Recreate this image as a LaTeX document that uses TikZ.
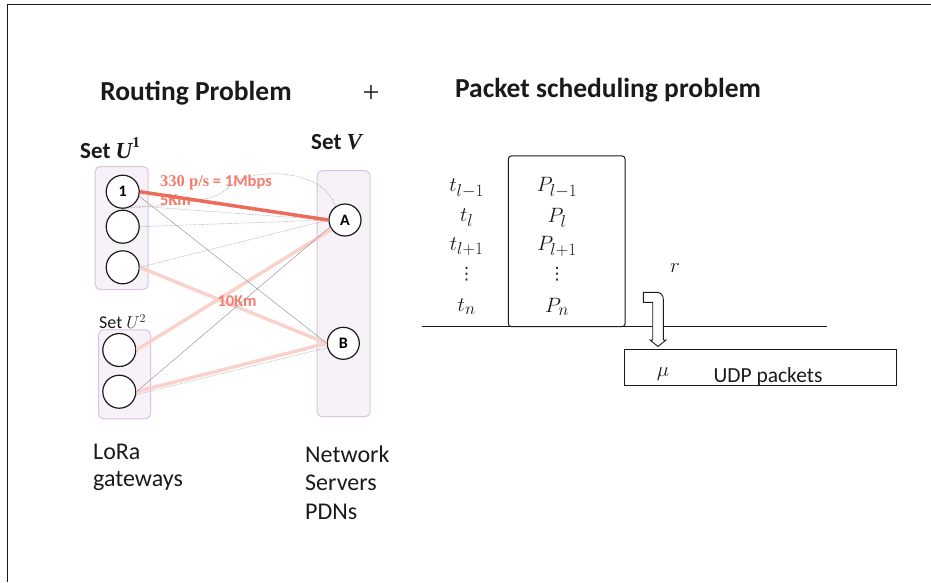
\documentclass[tikz,border=0pt]{standalone}
\usepackage{fontspec}
\setmainfont{Carlito}
\newfontfamily\serifbold{Liberation Serif}
\newfontfamily\symbolfont{DejaVu Sans}
\DeclareMathSizes{21}{21}{16.5}{13}
\definecolor{linkred}{HTML}{EE6A5A}
\definecolor{linkpale}{HTML}{F9D2CC}
\definecolor{labelred}{HTML}{F47C6C}
\definecolor{setfill}{HTML}{F7F1F8}
\definecolor{setedge}{HTML}{DCC2E2}
\definecolor{wire}{HTML}{9A9A9A}
\definecolor{ink}{HTML}{1A1A1A}
\newcommand{\fs}[1]{\fontsize{#1}{#1}\selectfont}
\newcommand{\setsym}[2]{{\serifbold\bfseries\itshape #1}\raisebox{0.45em}{\fontsize{15}{15}\selectfont\serifbold\bfseries #2}}
\newcommand{\colvdots}{{\symbolfont\fs{17}⋮}}
\begin{document}
\begin{tikzpicture}[x=1pt,y=-1pt,
  setbox/.style={draw=setedge,fill=setfill,line width=1pt,rounded corners=5pt,inner sep=0pt},
  gw/.style={circle,draw=ink,line width=1.2pt,fill=white,minimum size=33pt,inner sep=0pt,font=\fs{16}\bfseries},
  ns/.style={circle,draw=ink,line width=1.2pt,fill=white,minimum size=32pt,inner sep=0pt,font=\fs{16}\bfseries},
  strong/.style={linkred,line width=3.5pt},
  pale/.style={linkpale,line width=3.5pt},
  dotwire/.style={wire,line width=0.6pt,densely dotted},
  thinwire/.style={wire,line width=0.5pt},
  lbl/.style={inner sep=0pt,text=ink},
  mth/.style={inner sep=0pt,font=\fs{21},text=ink},
  rlabel/.style={inner sep=0pt,text=labelred,font=\fs{16.5}\bfseries}]
\useasboundingbox (0,0) rectangle (931,582);
% slide frame
\draw[ink,line width=1.5pt] (931,4.5) -- (7.5,4.5) -- (7.5,582);

% titles
\node[lbl,font=\fs{27.5}\bfseries] (trouting) at (196,93) {Routing Problem};
\node[lbl,font=\serifbold\fs{30}] (tplus) at (371,94) {+};
\node[lbl,font=\fs{27.5}\bfseries] (tsched) at (608,90) {Packet scheduling problem};

% sets
\node[lbl,anchor=west,font=\fs{23}\bfseries] (hU1) at (80,148) {Set \setsym{U}{1}};
\node[lbl,anchor=west,font=\fs{23}\bfseries] (hV) at (311,142) {Set {\serifbold\bfseries\itshape V}};
\node[lbl,anchor=west,font=\fs{18}] (hU2) at (99,322) {Set $U^2$};

\node[setbox,minimum width=53pt,minimum height=123pt] (U1box) at (121.7,228) {};
\node[setbox,minimum width=52pt,minimum height=89pt] (U2box) at (124.5,374.3) {};
\node[setbox,minimum width=53pt,minimum height=246pt] (Vbox) at (343.7,293.7) {};

\node[gw] (u1) at (122.7,191.7) {1};
\node[gw] (u2) at (122.7,226.7) {};
\node[gw] (u3) at (122.7,267.3) {};
\node[gw] (v1) at (119.3,350) {};
\node[gw] (v2) at (119.3,391.7) {};
\node[ns] (A) at (345,220) {A};
\node[ns] (B) at (343.3,343.3) {B};

% weak links
\draw[pale] (u3.east) -- (B.west);
\draw[pale] (v1.east) -- (A.215);
\draw[pale] (v2.east) -- (B.west);
\draw[dotwire] (u1.-55) -- (A.west);
\draw[dotwire] (u2.east) -- (A.west);
\draw[dotwire] (u3.east) -- (A.west);
\draw[dotwire] (v2.-10) -- (B.195);
\draw[thinwire] (u1.-15) -- (B.west);
\draw[thinwire] (v2.east) -- (A.205);
\draw[dotwire] (u1.-72) .. controls (190,204) and (218,200) .. (230,186)
  .. controls (248,168) and (322,166) .. (A.125);

% link labels
\node[rlabel] (dist10) at (237,301) {10Km};
\node[rlabel,anchor=west] (rate) at (160,182) {{\serifbold 330 p/s} = 1Mbps};
\node[rlabel,anchor=west] (dist5) at (160,200) {5Km};

% chosen route
\draw[strong] (u1.east) -- (A.west);

% captions
\node[lbl,anchor=west,font=\fs{24}] (cap1) at (93,452) {LoRa};
\node[lbl,anchor=west,font=\fs{24}] (cap2) at (93,481) {gateways};
\node[lbl,anchor=west,font=\fs{24}] (cap3) at (305,454) {Network};
\node[lbl,anchor=west,font=\fs{24}] (cap4) at (305,483) {Servers};
\node[lbl,anchor=west,font=\fs{24}] (cap5) at (305,512) {PDNs};

% packet schedule
\draw[ink,line width=0.8pt] (421.7,326.7) -- (826.7,326.7);
\node[draw=ink,line width=1pt,rounded corners=3pt,fill=white,minimum width=116.7pt,minimum height=170.7pt,inner sep=0pt] (queue) at (566.7,241.3) {};
\node[mth] (t1) at (466.7,188) {$t_{l-1}$};
\node[mth] (t2) at (466.7,218) {$t_{l}$};
\node[mth] (t3) at (466.7,246.7) {$t_{l+1}$};
\node[mth] (t4) at (466.7,274.5) {\colvdots};
\node[mth] (t5) at (466.7,306.7) {$t_{n}$};
\node[mth] (p1) at (557,188) {$P_{l-1}$};
\node[mth] (p2) at (557,218) {$P_{l}$};
\node[mth] (p3) at (557,246.7) {$P_{l+1}$};
\node[mth] (p4) at (557,274.5) {\colvdots};
\node[mth] (p5) at (557,306.7) {$P_{n}$};
\node[mth] (rsym) at (675,268) {$r$};

\node[draw=ink,line width=1pt,minimum width=272pt,minimum height=36.3pt,inner sep=0pt] (udp) at (760,367.2) {};
\node[mth,font=\fs{21}] (mu) at (663,374) {$\mu$};
\node[lbl,font=\fs{21.5}] (udptext) at (768,377) {UDP packets};

% bent hollow arrow into the packet buffer
\coordinate (arrtip) at (658,346.5);
\draw[ink,line width=0.9pt,fill=white,line join=miter]
  (643.3,292.3) -- (657,292.3) to[out=0,in=90] (663.3,299) -- (663.3,340) -- (666,340)
  -- (arrtip) -- (650,340) -- (652.7,340) -- (652.7,302.3) -- (643.3,302.3) -- cycle;
\end{tikzpicture}
\end{document}
